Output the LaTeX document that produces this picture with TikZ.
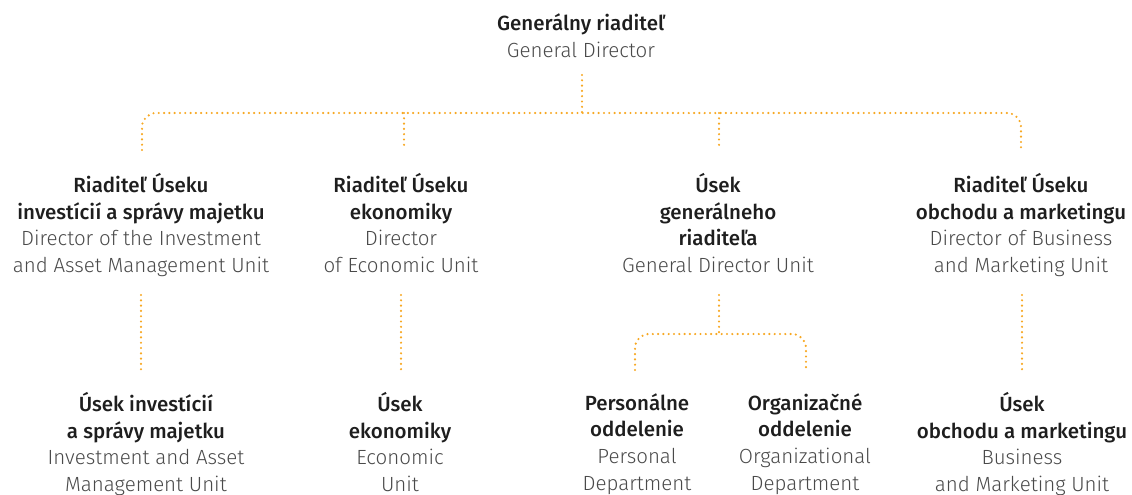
\documentclass[tikz,border=0pt]{standalone}
\usepackage{fontspec}
\setmainfont{Fira Sans}[UprightFont={* Light}, BoldFont={* Medium}]
\definecolor{dotor}{HTML}{F7A823}
\definecolor{txtsk}{HTML}{1E1E1E}
\definecolor{txten}{HTML}{4A4A4A}
\newcommand{\sk}[1]{{\color{txtsk}\bfseries #1}}
\newcommand{\en}[1]{{\color{txten}#1}}
\begin{document}
\begin{tikzpicture}[x=1pt,y=-1pt,
  box/.style={inner sep=0pt, align=center, font=\fontsize{20.5}{26.7}\selectfont},
  dot/.style={draw=dotor, line width=2.4pt, line cap=round, dash pattern=on 0pt off 5.3pt}]
\useasboundingbox (0,0) rectangle (1132,495);
% nodes
\node[box] (gd) at (581,36) {\sk{Generálny riaditeľ}\\\en{General Director}};
\node[box] (u1) at (141,225) {\sk{Riaditeľ Úseku}\\\sk{investícií a správy majetku}\\\en{Director of the Investment}\\\en{and Asset Management Unit}};
\node[box] (u2) at (401,223) {\sk{Riaditeľ Úseku}\\\sk{ekonomiky}\\\en{Director}\\\en{of Economic Unit}};
\node[box] (u3) at (718,223) {\sk{Úsek}\\\sk{generálneho}\\\sk{riaditeľa}\\\en{General Director Unit}};
\node[box] (u4) at (1021,225) {\sk{Riaditeľ Úseku}\\\sk{obchodu a marketingu}\\\en{Director of Business}\\\en{and Marketing Unit}};
\node[box] (l1) at (146,444) {\sk{Úsek investícií}\\\sk{a správy majetku}\\\en{Investment and Asset}\\\en{Management Unit}};
\node[box] (l2) at (400,442) {\sk{Úsek}\\\sk{ekonomiky}\\\en{Economic}\\\en{Unit}};
\node[box] (l3a) at (637,444) {\sk{Personálne}\\\sk{oddelenie}\\\en{Personal}\\\en{Department}};
\node[box] (l3b) at (805,444) {\sk{Organizačné}\\\sk{oddelenie}\\\en{Organizational}\\\en{Department}};
\node[box] (l4) at (1022,444) {\sk{Úsek}\\\sk{obchodu a marketingu}\\\en{Business}\\\en{and Marketing Unit}};
% junction coordinates
\coordinate (gdb) at (582,75);
\coordinate (j0) at (582,113);
\coordinate (t1) at (142,150);
\coordinate (t2) at (404,150);
\coordinate (t3) at (719,150);
\coordinate (t4) at (1021,150);
\coordinate (b1) at (141,295);
\coordinate (b2) at (401,295);
\coordinate (b3) at (719,295);
\coordinate (b4) at (1022,295);
\coordinate (j3) at (719,334);
\coordinate (e1) at (141,370);
\coordinate (e2) at (401,370);
\coordinate (e3a) at (635,370);
\coordinate (e3b) at (806,370);
\coordinate (e4) at (1022,370);
% connectors
\draw[dot] (gdb) -- (j0);
\draw[dot, rounded corners=14pt] (t1) -- (t1 |- j0) -- (t4 |- j0) -- (t4);
\draw[dot] (t2 |- j0) -- (t2);
\draw[dot] (t3 |- j0) -- (t3);
\draw[dot] (b1) -- (e1);
\draw[dot] (b2) -- (e2);
\draw[dot] (b4) -- (e4);
\draw[dot] (b3) -- (j3);
\draw[dot, rounded corners=14pt] (e3a) -- (e3a |- j3) -- (e3b |- j3) -- (e3b);
\end{tikzpicture}
\end{document}
